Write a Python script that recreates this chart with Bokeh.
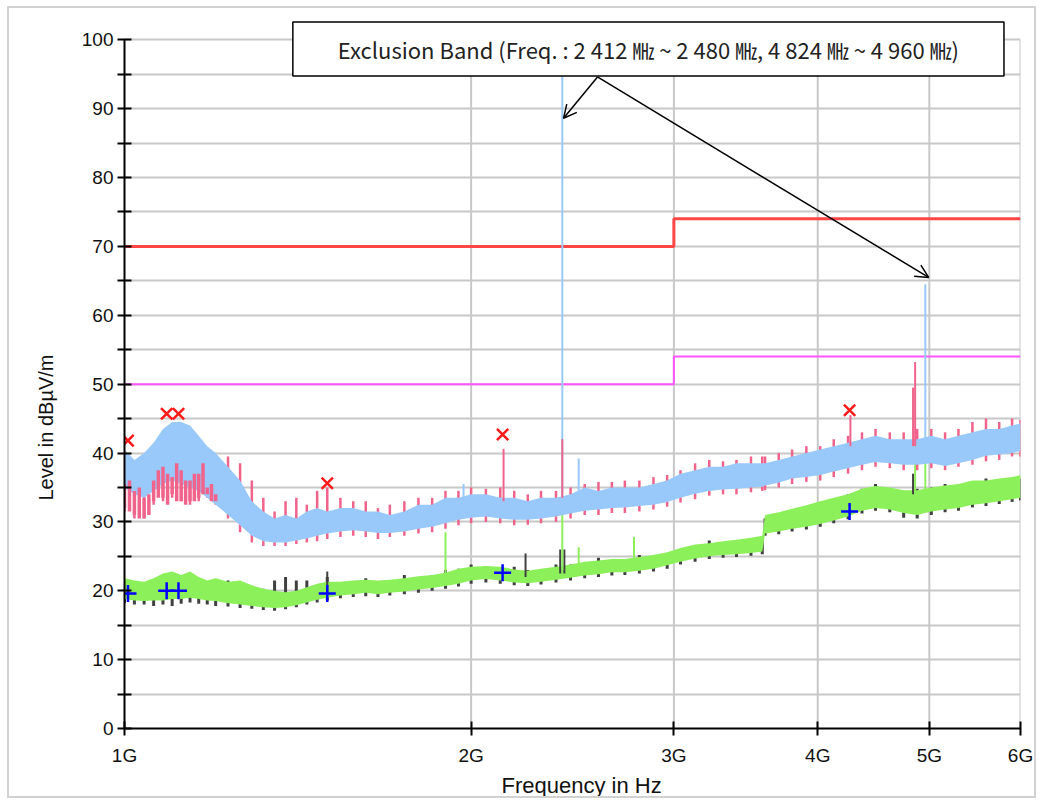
from bokeh.plotting import figure
from bokeh.models import FixedTicker, Label, Arrow, OpenHead, Range1d, Title
from bokeh.embed import file_html
from bokeh.resources import INLINE

# ---------------- data (frequency in GHz, level in dBuV/m) ----------------
freq = [1.00, 1.02, 1.04, 1.06, 1.08, 1.10, 1.12, 1.14, 1.16, 1.18, 1.20, 1.23, 1.26, 1.29,
        1.32, 1.35, 1.38, 1.41, 1.44, 1.47, 1.50, 1.54, 1.58, 1.62, 1.66, 1.70, 1.75, 1.80,
        1.85, 1.90, 1.95, 2.00, 2.06, 2.12, 2.18, 2.24, 2.30, 2.37, 2.44, 2.51, 2.58, 2.65,
        2.72, 2.80, 2.88, 2.96, 3.04, 3.13, 3.22, 3.31, 3.40, 3.50, 3.58, 3.60, 3.70, 3.80,
        3.91, 4.02, 4.13, 4.25, 4.37, 4.49, 4.62, 4.75, 4.88, 5.02, 5.16, 5.30, 5.45, 5.60,
        5.75, 5.90, 6.00]

# peak (horizontal) trace - pink
peak_h_hi = [39.0, 37.0, 36.5, 38.0, 41.5, 40.0, 39.5, 40.0, 38.5, 37.5, 39.5, 39.5, 38.5, 36.0,
             33.5, 31.5, 33.0, 33.5, 32.5, 34.5, 35.0, 33.5, 33.0, 33.0, 32.0, 32.5, 33.0, 33.5,
             33.5, 34.5, 34.5, 35.0, 34.8, 35.0, 34.5, 34.0, 34.5, 34.5, 35.0, 35.5, 35.8, 35.8,
             36.0, 36.0, 36.5, 36.8, 37.5, 38.5, 39.0, 38.8, 39.0, 39.5, 39.5, 39.5, 40.0, 40.5,
             41.0, 41.0, 42.0, 42.5, 43.0, 43.5, 43.0, 43.0, 43.5, 43.5, 43.0, 43.5, 44.5, 45.0,
             44.5, 45.0, 44.8]
peak_h_lo = [31.5, 30.5, 30.5, 32.5, 33.0, 33.5, 33.0, 32.5, 33.0, 33.5, 32.5, 30.5, 28.5, 27.0,
             26.5, 26.5, 26.5, 26.8, 27.0, 27.2, 27.5, 27.8, 28.0, 27.8, 27.5, 27.8, 28.0, 28.3,
             28.5, 29.0, 29.5, 29.8, 30.0, 29.8, 29.5, 29.6, 29.8, 30.0, 30.5, 31.0, 31.0, 31.3,
             31.3, 31.5, 31.8, 32.2, 32.8, 33.3, 33.8, 34.0, 34.0, 34.3, 34.5, 34.6, 35.0, 35.5,
             35.8, 36.0, 36.5, 37.0, 37.5, 38.0, 37.8, 37.5, 37.5, 37.8, 37.5, 38.0, 38.3, 38.8,
             39.0, 39.5, 39.5]

# peak (vertical) trace - light blue
peak_v_hi = [40.5, 39.0, 40.0, 41.5, 43.5, 44.5, 44.5, 44.0, 42.5, 41.0, 40.0, 38.0, 36.0, 33.0,
             31.5, 30.5, 31.0, 30.5, 31.5, 32.0, 31.5, 32.0, 32.0, 31.5, 31.5, 31.0, 31.5, 32.5,
             32.5, 33.5, 33.5, 34.0, 34.0, 33.5, 33.5, 33.0, 33.5, 33.5, 34.0, 35.0, 34.5, 35.0,
             35.0, 35.0, 35.5, 36.0, 37.0, 37.5, 38.0, 38.0, 38.5, 38.5, 38.5, 38.5, 39.0, 39.5,
             40.0, 40.5, 41.0, 41.5, 42.0, 42.5, 42.0, 42.0, 42.0, 42.5, 42.0, 42.5, 43.0, 43.5,
             43.5, 44.0, 44.3]
peak_v_lo = [35.0, 34.0, 33.5, 34.5, 35.5, 36.0, 35.5, 35.0, 34.5, 33.5, 32.5, 31.0, 29.5, 28.0,
             27.2, 27.0, 27.0, 27.3, 27.6, 28.0, 28.3, 28.6, 28.8, 28.6, 28.4, 28.4, 28.6, 29.0,
             29.3, 29.8, 30.3, 30.6, 30.8, 30.5, 30.3, 30.3, 30.5, 30.8, 31.2, 31.6, 31.8, 32.0,
             32.1, 32.3, 32.5, 32.9, 33.5, 34.1, 34.5, 34.7, 34.8, 35.0, 35.1, 35.3, 35.7, 36.3,
             36.5, 36.8, 37.3, 37.8, 38.3, 38.7, 38.5, 38.3, 38.3, 38.5, 38.1, 38.5, 39.0, 39.6,
             39.8, 40.0, 40.3]

# pink trace parts lying over the blue one at the low end
over_freq = [1.00, 1.01, 1.02, 1.03, 1.04, 1.05, 1.06, 1.07, 1.08, 1.09, 1.10, 1.11, 1.12,
             1.13, 1.14, 1.15, 1.16, 1.17, 1.18, 1.19, 1.20]
over_hi = [35.5, 36.0, 34.5, 35.0, 33.5, 34.0, 36.0, 37.5, 38.0, 37.0, 36.5, 38.5, 37.5,
           36.0, 36.0, 37.0, 37.0, 38.5, 35.0, 35.5, 34.0]
over_lo = [32.0, 31.5, 31.0, 30.5, 30.5, 31.0, 33.0, 33.5, 33.5, 32.5, 34.0, 33.0, 33.0,
           32.5, 33.0, 33.0, 33.5, 34.0, 34.0, 33.0, 33.0]

# average (horizontal) trace - dark grey
avg_h_hi = [20.5, 20.0, 20.0, 20.5, 21.0, 21.5, 21.0, 21.0, 20.5, 20.5, 20.8, 21.5, 21.0, 20.0,
            20.3, 21.5, 22.0, 21.5, 21.5, 20.5, 22.0, 20.8, 21.0, 21.8, 21.0, 21.5, 22.3, 21.8,
            22.3, 23.0, 23.2, 23.8, 23.6, 23.3, 23.5, 23.0, 23.0, 23.8, 23.8, 24.0, 24.8, 24.5,
            24.6, 25.2, 25.0, 25.5, 26.0, 26.5, 27.3, 27.0, 27.3, 27.5, 27.8, 30.5, 31.0, 31.8,
            32.2, 32.6, 33.3, 34.0, 34.8, 35.5, 34.8, 34.5, 34.8, 35.0, 35.5, 35.3, 35.6, 36.3,
            36.0, 36.2, 36.3]
avg_h_lo = [18.2, 18.0, 18.0, 17.8, 18.0, 17.8, 18.1, 18.3, 18.1, 18.0, 17.8, 17.7, 17.5, 17.4,
            17.2, 17.1, 17.3, 17.6, 18.0, 18.3, 18.6, 18.9, 19.1, 19.2, 19.1, 19.3, 19.5, 19.7,
            20.0, 20.3, 20.6, 21.0, 21.2, 21.0, 20.8, 20.7, 20.9, 21.2, 21.5, 21.8, 22.0, 22.2,
            22.3, 22.5, 22.8, 23.2, 23.8, 24.2, 24.6, 24.8, 24.9, 25.1, 25.3, 28.0, 28.2, 28.6,
            28.9, 29.3, 29.8, 30.4, 31.2, 31.6, 31.4, 30.6, 30.5, 31.0, 31.4, 31.6, 32.1, 32.3,
            32.6, 32.9, 33.1]

# average (vertical) trace - light green
avg_v_hi = [21.8, 21.5, 21.3, 21.8, 22.5, 22.8, 22.3, 22.8, 22.0, 21.5, 21.8, 21.3, 21.5, 20.8,
            20.3, 20.0, 19.8, 20.0, 20.5, 21.0, 21.3, 21.3, 21.5, 21.6, 21.5, 21.6, 21.8, 22.1,
            22.3, 22.6, 23.2, 23.5, 23.6, 23.5, 23.1, 22.9, 23.2, 23.5, 23.8, 24.2, 24.4, 24.6,
            24.6, 24.9, 25.2, 25.6, 26.2, 26.7, 26.9, 27.2, 27.4, 27.7, 28.0, 31.0, 31.4, 31.9,
            32.4, 33.0, 33.5, 34.0, 34.8, 35.2, 35.0, 34.6, 34.6, 35.0, 35.3, 35.5, 36.0, 36.0,
            36.3, 36.5, 36.8]
avg_v_lo = [18.8, 18.6, 18.5, 18.6, 18.6, 18.8, 18.8, 19.0, 18.8, 18.6, 18.5, 18.2, 18.0, 17.8,
            17.6, 17.5, 17.6, 17.9, 18.3, 18.7, 19.0, 19.3, 19.5, 19.7, 19.5, 19.7, 19.9, 20.2,
            20.4, 20.7, 21.0, 21.5, 21.7, 21.5, 21.2, 21.1, 21.3, 21.6, 21.9, 22.2, 22.4, 22.7,
            22.7, 22.9, 23.2, 23.7, 24.2, 24.7, 25.0, 25.2, 25.3, 25.5, 25.7, 28.3, 28.6, 29.0,
            29.3, 29.7, 30.2, 30.8, 31.6, 32.0, 31.8, 31.3, 31.0, 31.5, 31.8, 32.0, 32.5, 32.7,
            33.0, 33.3, 33.5]

# narrow spikes
blue_spike_f = [1.97, 2.40, 2.48, 4.96]
blue_spike_lo = [32.5, 33.0, 33.5, 41.0]
blue_spike_hi = [35.5, 95.0, 39.2, 64.5]
pink_spike_f = [2.134, 2.40, 4.27, 4.84, 4.86]
pink_spike_lo = [33.0, 33.5, 41.0, 41.0, 41.0]
pink_spike_hi = [40.6, 42.0, 45.5, 49.5, 53.2]
green_spike_f = [1.90, 2.40, 2.48, 2.77, 4.86, 4.96]
green_spike_lo = [21.5, 23.0, 23.5, 24.2, 34.0, 34.0]
green_spike_hi = [28.5, 31.5, 26.3, 27.8, 38.6, 39.3]
grey_spike_f = [1.50, 2.23, 2.39, 2.41, 4.84]
grey_spike_lo = [19.5, 22.0, 22.5, 22.5, 34.0]
grey_spike_hi = [22.8, 25.4, 26.0, 26.0, 37.0]

# final measurement markers
final_f = [1.007, 1.088, 1.114, 1.50, 2.13, 4.263]
final_peak = [41.8, 45.7, 45.7, 35.6, 42.7, 46.2]
final_avg = [19.6, 20.0, 20.0, 19.6, 22.6, 31.5]

# limits
limit_f = [1.0, 3.0, 3.0, 6.0]
limit_peak = [70, 70, 74, 74]
limit_avg = [50, 50, 54, 54]

x_ticks = [1, 2, 3, 4, 5, 6]
x_tick_labels = ["1G", "2G", "3G", "4G", "5G", "6G"]
y_ticks = [0, 10, 20, 30, 40, 50, 60, 70, 80, 90, 100]
y_minor = [5, 15, 25, 35, 45, 55, 65, 75, 85, 95]

note_text = "Exclusion Band (Freq. : 2 412 \u3392 ~ 2 480 \u3392, 4 824 \u3392 ~ 4 960 \u3392)"

# ---------------- figure ----------------
Y_TOP = 102.8   # room above the 100 line for the note box
p = figure(width=1029, height=792, x_axis_type="log",
           x_range=Range1d(1, 6), y_range=Range1d(0, Y_TOP),
           output_backend="svg", toolbar_location=None,
           min_border_left=115, min_border_right=18, min_border_top=12, min_border_bottom=72,
           background_fill_color="white", border_fill_color="white",
           margin=(6, 0, 0, 7),
           styles={"border": "2px solid #d2d2d2"})

p.outline_line_color = None

grid_col = "#c8c8c8"
p.xgrid.visible = False
p.ygrid.grid_line_color = grid_col
p.ygrid.grid_line_width = 2
p.ygrid.minor_grid_line_color = grid_col
p.ygrid.minor_grid_line_width = 2
# vertical grid lines, stopping at the 100 line
p.segment(x0=x_ticks[1:], y0=[0] * 5, x1=x_ticks[1:], y1=[100] * 5,
          line_color=grid_col, line_width=2)

xa = p.xaxis[0]
xa.ticker = FixedTicker(ticks=x_ticks, minor_ticks=[])
xa.major_label_overrides = {t: l for t, l in zip(x_ticks, x_tick_labels)}
ya = p.yaxis[0]
ya.ticker = FixedTicker(ticks=y_ticks, minor_ticks=y_minor)
ya.bounds = (0, 100)

for ax in (xa, ya):
    ax.axis_line_color = "black"
    ax.axis_line_width = 2
    ax.major_tick_line_color = "black"
    ax.major_tick_line_width = 2
    ax.major_tick_in = 7
    ax.major_tick_out = 7
    ax.minor_tick_line_color = "black"
    ax.minor_tick_line_width = 2
    ax.minor_tick_in = 7
    ax.minor_tick_out = 7
    ax.major_label_text_font = "Liberation Sans"
    ax.major_label_text_font_size = "19px"
    ax.major_label_text_color = "#111111"
xa.minor_tick_line_color = None
xa.major_label_standoff = 9
ya.major_label_standoff = 4

ytitle = Title(text="Level in dB\u00b5V/m", align="left", offset=228, standoff=44,
               text_font="Liberation Sans", text_font_size="20px", text_font_style="normal",
               text_color="#111111")
p.add_layout(ytitle, "left")
xtitle = Title(text="Frequency in Hz", align="left", offset=377, standoff=4,
               text_font="Liberation Sans", text_font_size="22px", text_font_style="normal",
               text_color="#111111")
p.add_layout(xtitle, "below")

# limit lines
p.line(limit_f, limit_peak, line_color="#ff4646", line_width=3)
p.line(limit_f, limit_avg, line_color="#ff55ff", line_width=2)

# average traces
p.segment(x0=freq, y0=avg_h_lo, x1=freq, y1=avg_h_hi, line_color="#404040", line_width=3)
p.varea(x=freq, y1=avg_v_lo, y2=avg_v_hi, fill_color="#8cf05a")
p.segment(x0=grey_spike_f, y0=grey_spike_lo, x1=grey_spike_f, y1=grey_spike_hi,
          line_color="#404040", line_width=2)
p.segment(x0=green_spike_f, y0=green_spike_lo, x1=green_spike_f, y1=green_spike_hi,
          line_color="#8cf05a", line_width=2)

# peak traces
p.segment(x0=freq, y0=peak_h_lo, x1=freq, y1=peak_h_hi, line_color="#f0648c", line_width=2.5)
p.varea(x=freq, y1=peak_v_lo, y2=peak_v_hi, fill_color="#99c9fa")
p.segment(x0=over_freq, y0=over_lo, x1=over_freq, y1=over_hi, line_color="#f0648c",
          line_width=3.5)
p.segment(x0=blue_spike_f, y0=blue_spike_lo, x1=blue_spike_f, y1=blue_spike_hi,
          line_color="#99c9fa", line_width=2)
p.segment(x0=pink_spike_f, y0=pink_spike_lo, x1=pink_spike_f, y1=pink_spike_hi,
          line_color="#f0648c", line_width=2)

# final markers
p.scatter(final_f, final_peak, marker="x", size=16, line_width=2.5, line_color="#ff1a1a")
p.scatter(final_f, final_avg, marker="cross", size=17, line_width=2.5, line_color="#0000ff")

# annotation box and arrows
note = Label(x=2.851, y=98.66, text=note_text, text_align="center", text_baseline="middle",
             text_font="Noto Sans CJK KR", text_font_size="22px", text_color="#222222",
             background_fill_color="white", border_line_color="black", border_line_width=1.5,
             padding=(45, 11))
p.add_layout(note)
p.add_layout(Arrow(end=OpenHead(size=13, line_width=1.5, line_color="black"),
                   x_start=2.575, y_start=94.6, x_end=2.406, y_end=88.6,
                   line_color="black", line_width=1.5))
p.add_layout(Arrow(end=OpenHead(size=13, line_width=1.5, line_color="black"),
                   x_start=2.575, y_start=94.6, x_end=4.993, y_end=65.5,
                   line_color="black", line_width=1.5))

open("out.html", "w").write(file_html(p, INLINE))
